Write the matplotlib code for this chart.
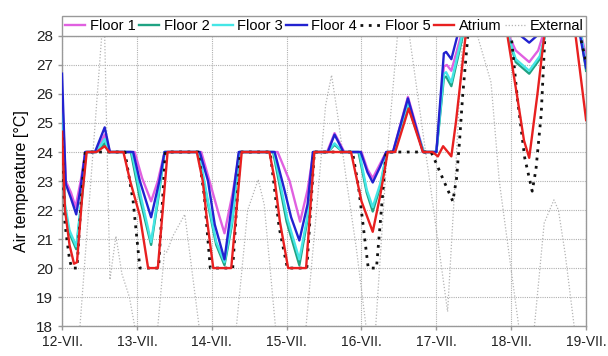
import matplotlib
matplotlib.use("Agg")
import matplotlib.pyplot as plt

plt.rcParams['font.family'] = ['Liberation Sans', 'DejaVu Sans']

# Day labels (x = days since 12-VII)
day_labels = ['12-VII.', '13-VII.', '14-VII.', '15-VII.', '16-VII.', '17-VII.', '18-VII.', '19-VII.']
y_ticks = [18, 19, 20, 21, 22, 23, 24, 25, 26, 27, 28]

# Floor 1 (violet)
f1_t = [0, 0.05, 0.12, 0.18, 0.25, 0.31, 0.45, 0.57, 0.64, 0.97, 1.07, 1.19, 1.28, 1.37,
        1.86, 1.97, 2.10, 2.17, 2.28, 2.37, 2.88, 3.04, 3.18, 3.28, 3.36, 3.54, 3.64, 3.77,
        4.00, 4.08, 4.15, 4.25, 4.33, 4.42, 4.62, 4.83, 5.00, 5.10, 5.14, 5.20, 5.35, 5.42,
        5.90, 5.97, 6.06, 6.24, 6.36, 6.42, 6.50, 6.85, 6.92, 7.00]
f1_v = [26.0, 23.0, 22.6, 22.1, 23.0, 24.0, 24.0, 24.6, 24.0, 24.0, 23.1, 22.3, 23.0, 24.0,
        24.0, 23.0, 21.8, 21.2, 22.6, 24.0, 24.0, 23.0, 21.6, 22.7, 24.0, 24.0, 24.65, 24.0,
        24.0, 23.4, 23.1, 23.6, 24.0, 24.0, 25.9, 24.0, 24.0, 26.95, 27.0, 26.8, 28.2, 30.0,
        30.0, 28.0, 27.5, 27.1, 27.5, 28.0, 30.0, 30.0, 28.2, 27.3]

# Floor 2 (teal)
f2_t = [0, 0.04, 0.10, 0.19, 0.27, 0.32, 0.46, 0.57, 0.63, 0.92, 1.04, 1.19, 1.28, 1.37,
        1.82, 1.95, 2.06, 2.17, 2.27, 2.37, 2.82, 3.00, 3.17, 3.28, 3.36, 3.55, 3.64, 3.75,
        3.96, 4.07, 4.15, 4.25, 4.34, 4.43, 4.62, 4.83, 5.00, 5.10, 5.13, 5.20, 5.37, 5.42,
        5.92, 5.96, 6.06, 6.24, 6.38, 6.45, 6.52, 6.85, 6.92, 7.00]
f2_v = [25.0, 22.0, 21.2, 20.65, 22.5, 24.0, 24.0, 24.3, 24.0, 24.0, 22.4, 20.8, 22.3, 24.0,
        24.0, 22.2, 20.8, 20.1, 21.5, 24.0, 24.0, 21.6, 20.1, 21.7, 24.0, 24.0, 24.25, 24.0,
        24.0, 22.6, 21.95, 22.8, 24.0, 24.0, 25.6, 24.0, 24.0, 26.55, 26.6, 26.27, 28.2, 30.0,
        30.0, 28.0, 27.1, 26.7, 27.2, 28.0, 30.0, 30.0, 28.2, 26.8]

# Floor 3 (cyan)
f3_t = [0, 0.04, 0.10, 0.19, 0.27, 0.32, 0.46, 0.57, 0.63, 0.93, 1.05, 1.19, 1.28, 1.37,
        1.83, 1.95, 2.06, 2.17, 2.27, 2.37, 2.83, 3.01, 3.17, 3.28, 3.36, 3.55, 3.64, 3.75,
        3.97, 4.07, 4.15, 4.25, 4.34, 4.43, 4.62, 4.83, 5.00, 5.10, 5.13, 5.20, 5.36, 5.42,
        5.92, 5.96, 6.06, 6.24, 6.38, 6.45, 6.52, 6.85, 6.92, 7.00]
f3_v = [25.3, 22.2, 21.3, 20.75, 22.6, 24.0, 24.0, 24.45, 24.0, 24.0, 22.5, 20.9, 22.4, 24.0,
        24.0, 22.3, 20.9, 20.2, 21.6, 24.0, 24.0, 21.7, 20.3, 21.8, 24.0, 24.0, 24.3, 24.0,
        24.0, 22.7, 22.1, 22.9, 24.0, 24.0, 25.7, 24.0, 24.0, 26.7, 26.75, 26.4, 28.2, 30.0,
        30.0, 28.0, 27.2, 26.8, 27.3, 28.0, 30.0, 30.0, 28.2, 27.0]

# Floor 4 (blue)
f4_t = [0, 0.05, 0.12, 0.19, 0.25, 0.31, 0.44, 0.57, 0.64, 0.95, 1.04, 1.19, 1.30, 1.37,
        1.84, 1.95, 2.04, 2.17, 2.28, 2.36, 2.84, 2.97, 3.06, 3.17, 3.28, 3.35, 3.55, 3.64, 3.76,
        3.99, 4.08, 4.15, 4.25, 4.33, 4.42, 4.62, 4.82, 5.00, 5.10, 5.13, 5.20, 5.31, 5.40,
        5.90, 6.13, 6.24, 6.34, 6.42, 6.85, 6.92, 7.00]
f4_v = [26.7, 22.9, 22.4, 21.85, 22.8, 24.0, 24.0, 24.85, 24.0, 24.0, 23.0, 21.75, 23.0, 24.0,
        24.0, 23.0, 21.5, 20.3, 22.4, 24.0, 24.0, 22.7, 21.75, 20.95, 22.2, 24.0, 24.0, 24.6, 24.0,
        24.0, 23.3, 22.95, 23.5, 24.0, 24.0, 25.85, 24.0, 24.0, 27.4, 27.45, 27.2, 28.3, 30.0,
        30.0, 28.0, 27.77, 28.0, 30.0, 30.0, 28.0, 26.9]

# Floor 5 (black dotted)
f5_t = [0, 0.04, 0.10, 0.13, 0.20, 0.26, 0.31, 0.84, 0.95, 1.04, 1.29, 1.38,
        1.82, 1.90, 1.98, 2.28, 2.38, 2.78, 2.90, 3.01, 3.27, 3.37,
        3.88, 3.96, 4.03, 4.09, 4.20, 4.33, 4.93, 5.00, 5.10, 5.22, 5.27, 5.31, 5.35, 5.42, 5.47,
        5.95, 6.00, 6.08, 6.18, 6.28, 6.33, 6.40, 6.45, 6.50, 6.85, 6.92, 7.00]
f5_v = [24.5, 21.5, 20.3, 20.0, 20.0, 22.5, 24.0, 24.0, 22.3, 20.0, 20.0, 24.0,
        24.0, 22.5, 20.0, 20.0, 24.0, 24.0, 21.4, 20.0, 20.0, 24.0,
        24.0, 22.8, 21.3, 20.0, 20.0, 24.0, 24.0, 23.6, 23.0, 22.3, 23.1, 24.4, 25.9, 28.0, 30.0,
        30.0, 28.0, 25.9, 23.8, 22.65, 23.4, 25.3, 28.0, 30.0, 30.0, 28.0, 27.1]

# Atrium (red)
at_t = [0, 0.04, 0.10, 0.16, 0.20, 0.27, 0.33, 0.46, 0.57, 0.63, 0.82, 0.91, 1.04, 1.15, 1.28, 1.41,
        1.80, 1.88, 1.93, 2.02, 2.26, 2.40, 2.77, 2.84, 2.91, 3.02, 3.26, 3.37,
        3.86, 4.00, 4.15, 4.25, 4.35, 4.45, 4.63, 4.82, 4.95, 5.02, 5.09, 5.20, 5.26, 5.39, 5.45,
        5.90, 5.95, 6.08, 6.17, 6.24, 6.35, 6.44, 6.50, 6.82, 6.86, 7.00]
at_v = [24.7, 22.0, 20.8, 20.15, 20.2, 22.5, 24.0, 24.0, 24.2, 24.0, 24.0, 23.0, 21.8, 20.0, 20.0, 24.0,
        24.0, 23.0, 21.8, 20.0, 20.0, 24.0, 24.0, 23.05, 21.6, 20.0, 20.0, 24.0,
        24.0, 22.3, 21.25, 22.5, 24.0, 24.0, 25.5, 24.0, 24.0, 23.85, 24.2, 23.85, 25.0, 28.0, 30.0,
        30.0, 28.0, 25.9, 24.4, 23.8, 26.0, 28.0, 30.0, 30.0, 28.0, 25.1]

# External (grey dotted)
ex_t = [0.0, 0.24, 0.53, 0.55, 0.57, 0.64, 0.72, 0.80, 0.90, 0.97, 1.10, 1.28, 1.37, 1.40, 1.48, 1.64, 1.83,
        2.05, 2.33, 2.48, 2.62, 2.70, 2.85, 3.05, 3.26, 3.40, 3.52, 3.60, 3.68, 3.80, 3.93, 4.06,
        4.12, 4.19, 4.33, 4.48, 4.56, 4.64, 4.90, 5.15, 5.25, 5.35, 5.47, 5.55, 5.73, 5.84, 6.10,
        6.20, 6.31, 6.44, 6.57, 6.63, 6.72, 6.84, 7.00]
ex_v = [15.0, 18.0, 28.0, 29.0, 28.0, 19.6, 21.1, 19.8, 19.0, 18.0, 16.0, 18.0, 20.6, 20.55, 21.1, 21.85, 18.0,
        15.5, 18.0, 22.0, 23.05, 22.2, 18.0, 15.0, 18.0, 22.0, 25.6, 26.65, 25.3, 23.0, 20.7, 18.0,
        17.0, 18.0, 23.5, 28.0, 29.5, 28.0, 23.2, 18.5, 23.0, 28.0, 29.5, 28.0, 26.4, 23.0, 18.0,
        16.5, 18.0, 21.55, 22.35, 22.0, 20.5, 18.0, 16.0]

fig = plt.figure(figsize=(6.08, 3.56), dpi=100)
ax = fig.add_axes([0.102, 0.084, 0.862, 0.815])

ax.plot(ex_t, ex_v, color='#B4B4B4', lw=0.9, ls=(0, (1, 1.5)), label='External', zorder=2)
ax.plot(f1_t, f1_v, color='#E060E0', lw=1.7, label='Floor 1', zorder=3)
ax.plot(f2_t, f2_v, color='#1FA383', lw=1.7, label='Floor 2', zorder=3)
ax.plot(f3_t, f3_v, color='#45E6E6', lw=1.7, label='Floor 3', zorder=3)
ax.plot(f4_t, f4_v, color='#2222D0', lw=1.7, label='Floor 4', zorder=4)
ax.plot(f5_t, f5_v, color='#111111', lw=2.0, ls=(0, (1, 2.0)), label='Floor 5', zorder=4)
ax.plot(at_t, at_v, color='#E82020', lw=1.7, label='Atrium', zorder=5)

ax.set_xlim(0, 7)
ax.set_ylim(18, 28)
ax.set_xticks(range(len(day_labels)))
ax.set_xticklabels(day_labels, fontsize=10)
ax.set_yticks(y_ticks)
ax.set_yticklabels([str(v) for v in y_ticks], fontsize=11)
ax.set_ylabel('Air temperature [°C]', fontsize=11.5, labelpad=5)

ax.grid(True, color='#B0B0B0', ls=(0, (1, 1)), lw=0.8)
ax.set_axisbelow(True)
for s in ['left', 'bottom', 'right']:
    ax.spines[s].set_color('#999999')
    ax.spines[s].set_linewidth(1.0)
ax.spines['top'].set_visible(False)
ax.tick_params(axis='both', colors='#999999', labelcolor='#222222', length=3, width=1.0)

handles, labels = ax.get_legend_handles_labels()
order = ['Floor 1', 'Floor 2', 'Floor 3', 'Floor 4', 'Floor 5', 'Atrium', 'External']
hd = dict(zip(labels, handles))
leg = ax.legend([hd[o] for o in order], order, loc='lower left', bbox_to_anchor=(0, 1.0, 1, 0.08),
                mode='expand', ncol=7, borderaxespad=0, fontsize=10.5, handlelength=1.4,
                handletextpad=0.3, columnspacing=0.3, fancybox=False, framealpha=1,
                borderpad=0.2)
leg.get_frame().set_edgecolor('#999999')
leg.get_frame().set_linewidth(1.0)

fig.savefig('out.png', dpi=100)
